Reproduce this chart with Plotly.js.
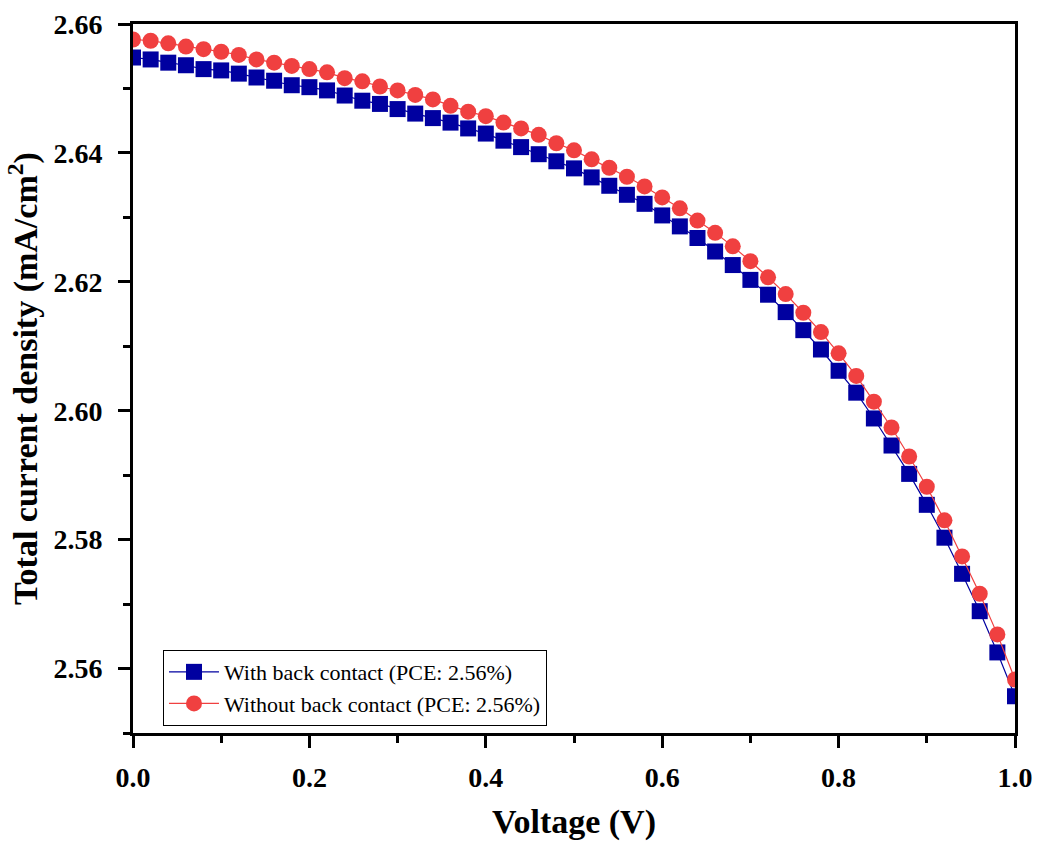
<!DOCTYPE html>
<html>
<head>
<meta charset="utf-8">
<script src="https://cdn.plot.ly/plotly-3.0.1.min.js"></script>
<style>html,body{margin:0;padding:0;background:#fff;}#chart{width:1042px;height:843px;}</style>
</head>
<body>
<div id="chart"></div>
<script>
const voltage = [0.00,0.02,0.04,0.06,0.08,0.10,0.12,0.14,0.16,0.18,0.20,0.22,0.24,0.26,0.28,0.30,0.32,0.34,0.36,0.38,0.40,0.42,0.44,0.46,0.48,0.50,0.52,0.54,0.56,0.58,0.60,0.62,0.64,0.66,0.68,0.70,0.72,0.74,0.76,0.78,0.80,0.82,0.84,0.86,0.88,0.90,0.92,0.94,0.96,0.98,1.00];
const withContact = [2.6548,2.6545,2.6540,2.6536,2.6530,2.6528,2.6523,2.6517,2.6512,2.6505,2.6502,2.6497,2.6489,2.6481,2.6476,2.6468,2.6461,2.6454,2.6447,2.6438,2.6430,2.6419,2.6409,2.6398,2.6387,2.6376,2.6362,2.6349,2.6335,2.6321,2.6303,2.6286,2.6268,2.6247,2.6226,2.6203,2.6180,2.6153,2.6125,2.6095,2.6062,2.6028,2.5988,2.5946,2.5902,2.5854,2.5803,2.5747,2.5689,2.5625,2.5557];
const withoutContact = [2.6576,2.6574,2.6570,2.6565,2.6561,2.6557,2.6552,2.6545,2.6540,2.6535,2.6530,2.6525,2.6516,2.6511,2.6503,2.6497,2.6490,2.6483,2.6473,2.6464,2.6457,2.6447,2.6438,2.6428,2.6415,2.6404,2.6390,2.6377,2.6363,2.6348,2.6331,2.6314,2.6295,2.6276,2.6255,2.6232,2.6207,2.6181,2.6152,2.6122,2.6089,2.6054,2.6014,2.5974,2.5929,2.5882,2.5830,2.5774,2.5716,2.5653,2.5583];
const seriesNames = ["With back contact (PCE: 2.56%)", "Without back contact (PCE: 2.56%)"];

const serif = "Liberation Serif, Times New Roman, serif";
const traces = [
  {x: voltage, y: withContact, name: seriesNames[0], type: "scatter", mode: "lines+markers",
   line: {color: "#0000A0", width: 1.2}, marker: {symbol: "square", size: 16, color: "#0000A0"}},
  {x: voltage, y: withoutContact, name: seriesNames[1], type: "scatter", mode: "lines+markers",
   line: {color: "#F04040", width: 1.2}, marker: {symbol: "circle", size: 16, color: "#F04040"}}
];
const axisCommon = {
  showline: true, linecolor: "#000", linewidth: 3, mirror: true,
  ticks: "outside", ticklen: 12, tickwidth: 3, tickcolor: "#000",
  showgrid: false, zeroline: false,
  tickfont: {family: serif, size: 28, color: "#000", weight: "bold"}
};
const layout = {
  width: 1042, height: 843,
  margin: {l: 133, r: 27, t: 24, b: 110},
  paper_bgcolor: "#fff", plot_bgcolor: "#fff",
  showlegend: true,
  legend: {x: 0.034, y: 0.117, xanchor: "left", yanchor: "top",
    bordercolor: "#000", borderwidth: 1, bgcolor: "rgba(255,255,255,0)",
    font: {family: serif, size: 22, color: "#000"}, tracegroupgap: 0, itemwidth: 50},
  xaxis: Object.assign({}, axisCommon, {
    range: [0, 1], dtick: 0.2, tick0: 0, tickformat: ".1f", ticklabelstandoff: 5,
    minor: {dtick: 0.1, ticks: "outside", ticklen: 7, tickwidth: 3, tickcolor: "#000"},
    title: {text: "Voltage (V)", standoff: 18, font: {family: serif, size: 34, color: "#000", weight: "bold"}}
  }),
  yaxis: Object.assign({}, axisCommon, {
    range: [2.55, 2.66], dtick: 0.02, tick0: 2.56, tickformat: ".2f", ticklabelstandoff: 10,
    minor: {dtick: 0.01, ticks: "outside", ticklen: 7, tickwidth: 3, tickcolor: "#000"},
    title: {text: "Total current density (mA/cm<sup>2</sup>)", standoff: 6, font: {family: serif, size: 34, color: "#000", weight: "bold"}}
  })
};
Plotly.newPlot("chart", traces, layout, {displayModeBar: false, staticPlot: true});
</script>
</body>
</html>
